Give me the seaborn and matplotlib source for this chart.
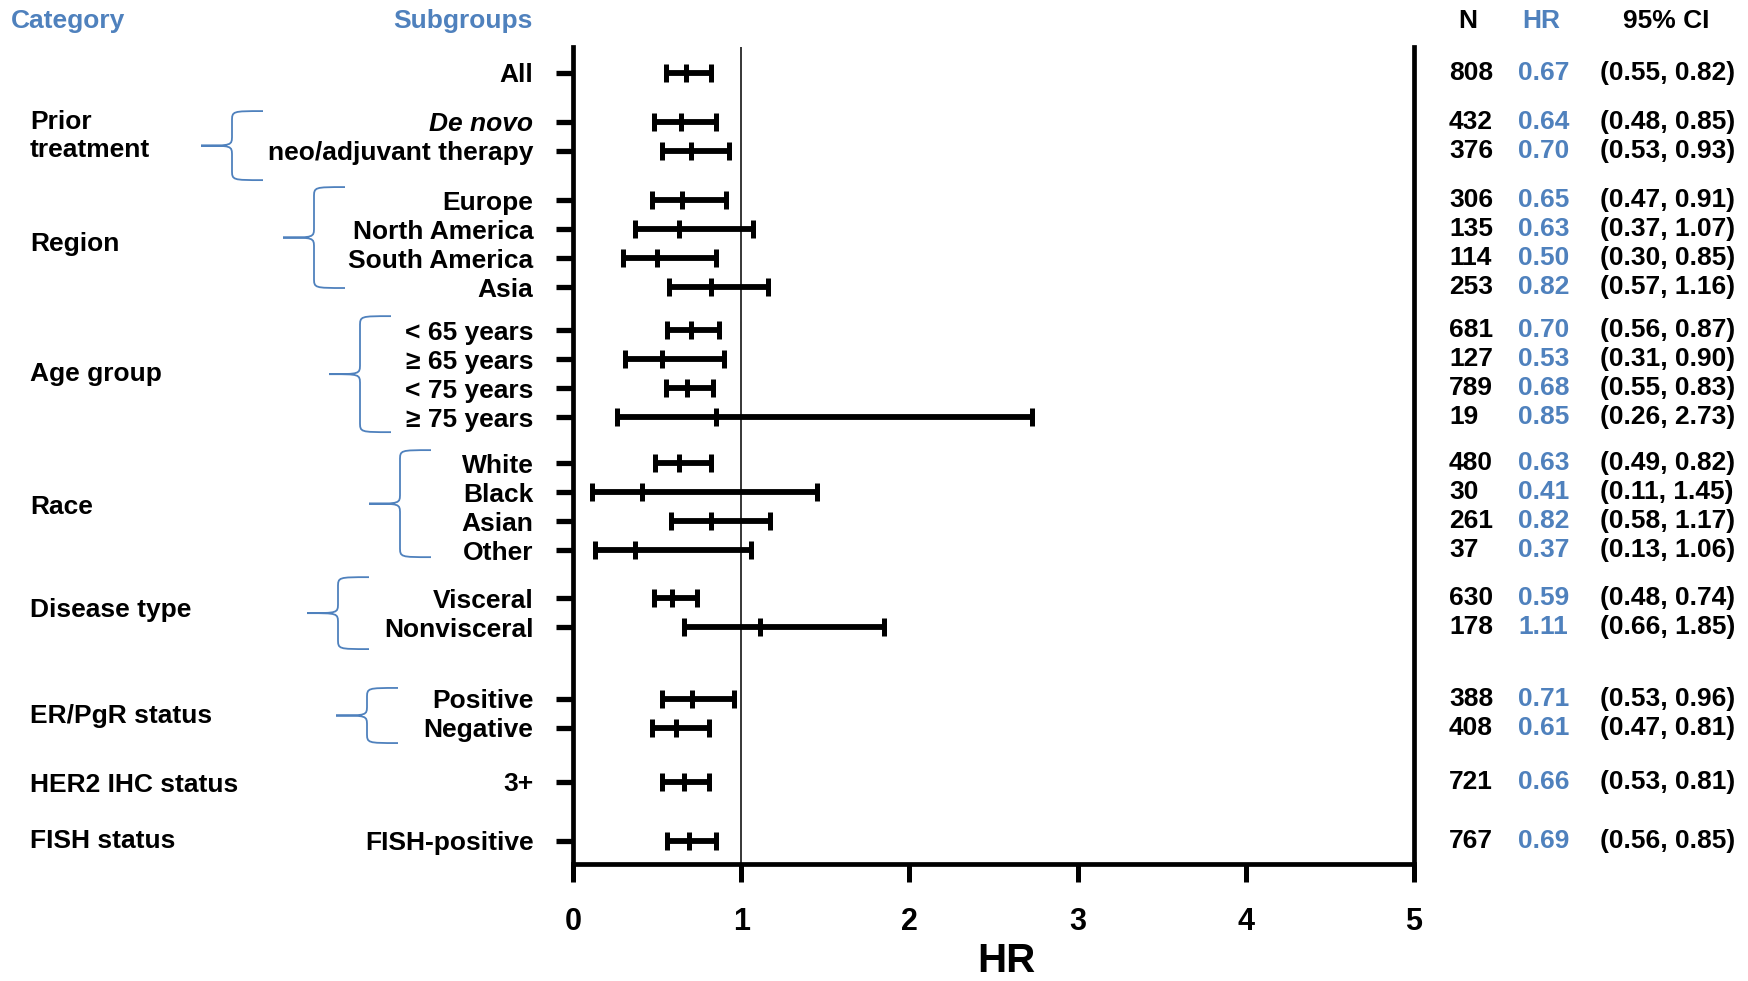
import pandas as pd
import seaborn as sns
import matplotlib.pyplot as plt
from matplotlib import transforms
from matplotlib.path import Path
from matplotlib.patches import PathPatch

subgroups = ["All", "De novo", "neo/adjuvant therapy", "Europe", "North America",
             "South America", "Asia", "< 65 years", "≥ 65 years", "< 75 years",
             "≥ 75 years", "White", "Black", "Asian", "Other", "Visceral",
             "Nonvisceral", "Positive", "Negative", "3+", "FISH-positive"]
n_patients = [808, 432, 376, 306, 135, 114, 253, 681, 127, 789, 19,
              480, 30, 261, 37, 630, 178, 388, 408, 721, 767]
hr = [0.67, 0.64, 0.70, 0.65, 0.63, 0.50, 0.82, 0.70, 0.53, 0.68, 0.85,
      0.63, 0.41, 0.82, 0.37, 0.59, 1.11, 0.71, 0.61, 0.66, 0.69]
ci_low = [0.55, 0.48, 0.53, 0.47, 0.37, 0.30, 0.57, 0.56, 0.31, 0.55, 0.26,
          0.49, 0.11, 0.58, 0.13, 0.48, 0.66, 0.53, 0.47, 0.53, 0.56]
ci_high = [0.82, 0.85, 0.93, 0.91, 1.07, 0.85, 1.16, 0.87, 0.90, 0.83, 2.73,
           0.82, 1.45, 1.17, 1.06, 0.74, 1.85, 0.96, 0.81, 0.81, 0.85]
categories = ["", "Prior\ntreatment", "Region", "Age group", "Race", "Disease type",
              "ER/PgR status", "HER2 IHC status", "FISH status"]
group_sizes = [1, 2, 4, 4, 4, 2, 2, 1, 1]

# layout: blank space before each group (in row units)
group_gaps = [0, 1.69, 1.71, 1.48, 1.59, 1.65, 2.48, 1.86, 2.02]
# braces: (tip x in px, top, bottom in row units)
braces = {"Prior\ntreatment": (201, 1.33, 3.71), "Region": (283, 3.95, 7.43),
          "Age group": (329, 8.40, 12.40), "Race": (369, 13.02, 16.71),
          "Disease type": (307, 17.40, 19.88), "ER/PgR status": (336, 21.22, 23.12)}
# small nudges of category labels (row units)
cat_nudge = {"Disease type": -0.08, "ER/PgR status": 0.1, "HER2 IHC status": 0.1}

BLUE = "#4F81BD"
W, H = 1749, 981

sns.set_theme(style="white")
plt.rcParams["font.family"] = ["Liberation Sans", "DejaVu Sans"]
plt.rcParams["font.weight"] = "bold"
plt.rcParams["text.color"] = "black"
plt.rcParams["axes.labelcolor"] = "black"

row_pos = []
group_of_row = []
y = 0
for g, (gap, size) in enumerate(zip(group_gaps, group_sizes)):
    y += gap
    for k in range(size):
        row_pos.append(y + k)
        group_of_row.append(g)
    y += size - 1

df = pd.DataFrame({"subgroup": subgroups, "n": n_patients, "hr": hr,
                   "lo": ci_low, "hi": ci_high, "y": row_pos, "group": group_of_row})

fig = plt.figure(figsize=(W / 100, H / 100), dpi=100)
ax = fig.add_axes([573 / W, 1 - 864 / H, (1414 - 573) / W, (864 - 47) / H])

ax.axvline(1, color="black", lw=1.1, zorder=1)
ax.errorbar(df["hr"], df["y"], xerr=[df["hr"] - df["lo"], df["hi"] - df["hr"]],
            fmt="none", ecolor="black", elinewidth=4.2, capsize=6.2, capthick=3.6, zorder=2)
sns.scatterplot(data=df, x="hr", y="y", marker="|", s=150, color="black",
                linewidth=3.6, ax=ax, zorder=3, legend=False)

ax.set_xlim(0, 5)
ax.set_ylim(27.29, -0.88)
ax.set_xticks(range(6))
ax.set_yticks(row_pos, labels=subgroups)
ax.get_yticklabels()[1].set_style("italic")
ax.tick_params(axis="x", direction="out", length=13, width=3.6, labelsize=22, pad=18,
               bottom=True, colors="black")
ax.tick_params(axis="y", direction="out", length=12, width=3.8, labelsize=19, pad=16.5,
               left=True, colors="black")
ax.spines["top"].set_visible(False)
for side in ["left", "right", "bottom"]:
    ax.spines[side].set_linewidth(3.4)
    ax.spines[side].set_color("black")
ax.set_xlabel("HR", fontsize=29, fontweight="bold", color="black")
ax.xaxis.set_label_coords(0.515, -0.119)
ax.xaxis.label.set_verticalalignment("center")
ax.set_ylabel("")

trans = transforms.blended_transform_factory(fig.transFigure, ax.transData)

# table columns
for _, r in df.iterrows():
    ax.text(1449 / W, r["y"], f"{r['n']}", transform=trans, ha="left", va="center",
            fontsize=19, clip_on=False)
    ax.text(1518 / W, r["y"], f"{r['hr']:.2f}", transform=trans, ha="left", va="center",
            fontsize=19, color=BLUE, clip_on=False)
    ax.text(1600 / W, r["y"], f"({r['lo']:.2f}, {r['hi']:.2f})", transform=trans,
            ha="left", va="center", fontsize=19, clip_on=False)

# headers
hy = 1 - 21 / H
fig.text(11 / W, hy, "Category", color=BLUE, fontsize=19, ha="left", va="center")
fig.text(533 / W, hy, "Subgroups", color=BLUE, fontsize=19, ha="right", va="center")
fig.text(1468 / W, hy, "N", fontsize=19, ha="center", va="center")
fig.text(1541 / W, hy, "HR", color=BLUE, fontsize=19, ha="center", va="center")
fig.text(1666 / W, hy, "95% CI", fontsize=19, ha="center", va="center")

# category labels and braces
for g, cat in enumerate(categories):
    if not cat:
        continue
    rows = df[df["group"] == g]["y"]
    ax.text(30 / W, rows.mean() + cat_nudge.get(cat, 0), cat, transform=trans,
            ha="left", va="center", fontsize=19, linespacing=1.2, clip_on=False)
    if cat in braces:
        tip, top, bot = braces[cat]
        mid = (top + bot) / 2
        tx, sx, ex = tip / W, (tip + 31) / W, (tip + 62) / W
        rr = 0.35
        verts = [(ex, top), (sx, top), (sx, top), (sx, top + rr),
                 (sx, mid - rr),
                 (sx, mid), (sx, mid), (tx, mid),
                 (sx, mid), (sx, mid), (sx, mid + rr),
                 (sx, bot - rr),
                 (sx, bot), (sx, bot), (ex, bot)]
        codes = [Path.MOVETO, Path.CURVE4, Path.CURVE4, Path.CURVE4,
                 Path.LINETO,
                 Path.CURVE4, Path.CURVE4, Path.CURVE4,
                 Path.CURVE4, Path.CURVE4, Path.CURVE4,
                 Path.LINETO,
                 Path.CURVE4, Path.CURVE4, Path.CURVE4]
        fig.add_artist(PathPatch(Path(verts, codes), transform=trans, fill=False,
                                 edgecolor=BLUE, lw=1.3))

fig.savefig("out.png", dpi=100, facecolor="white")
